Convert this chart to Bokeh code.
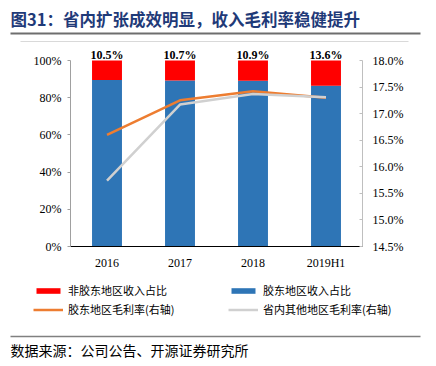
from bokeh.plotting import figure
from bokeh.layouts import column
from bokeh.models import (Range1d, FactorRange, LinearAxis, FixedTicker, PrintfTickFormatter,
                          LabelSet, ColumnDataSource, Legend, LegendItem, BoxAnnotation)
from bokeh.core.properties import value
from bokeh.embed import file_html
from bokeh.resources import INLINE

categories = ["2016", "2017", "2018", "2019H1"]
other_share = [10.5, 10.7, 10.9, 13.6]          # 非胶东地区收入占比 (%)
jiaodong_share = [89.5, 89.3, 89.1, 86.4]       # 胶东地区收入占比 (%)
jiaodong_margin = [16.60, 17.25, 17.42, 17.30]  # 胶东地区毛利率 (%, right axis)
other_margin = [15.74, 17.17, 17.37, 17.31]     # 省内其他地区毛利率 (%, right axis)
share_labels = ["10.5%", "10.7%", "10.9%", "13.6%"]
left_ticks = [0, 20, 40, 60, 80, 100]
right_ticks = [14.5, 15.0, 15.5, 16.0, 16.5, 17.0, 17.5, 18.0]
title_text = "图31：省内扩张成效明显，收入毛利率稳健提升"
source_text = "数据来源：公司公告、开源证券研究所"
legend_labels = ["非胶东地区收入占比", "胶东地区收入占比", "胶东地区毛利率(右轴)", "省内其他地区毛利率(右轴)"]

SERIF = "Liberation Serif"
CJK = "Noto Sans CJK SC"
W = 436
RED, BLUE, ORANGE, GREY = "#FF0000", "#2E75B6", "#ED7D31", "#D0D0D0"


def rule(fig, left, right, bottom, top, color):
    fig.add_layout(BoxAnnotation(left=left, right=right, bottom=bottom, top=top,
                                 fill_color=color, fill_alpha=1, line_color=None, level="overlay"))


# ---------- header (pixel-like coordinates, y measured up from the bottom) ----------
TOP_H = 42
head = figure(width=W, height=TOP_H, x_range=Range1d(0, W), y_range=Range1d(0, TOP_H),
              x_axis_type=None, y_axis_type=None, output_backend="svg", toolbar_location=None,
              min_border=0, outline_line_color=None, frame_align=False)
head.grid.visible = False
head.text(x=[10], y=[24], text=[title_text], text_baseline="middle", text_align="left",
          text_font=value(CJK), text_font_size="16.5px", text_font_style="bold", text_color="#1F3A78")
rule(head, 10, 420, 8, 10, "#6E6E6E")
rule(head, 20, 408, 0.5, 1.5, "#D9D9D9")

# ---------- main chart ----------
MAIN_H = 234
frame_px = 202.0
axis_px = 186.0
left_top = 100 * frame_px / axis_px
right_top = 14.5 + 3.5 * frame_px / axis_px

src = ColumnDataSource(dict(
    cat=categories,
    blue_top=jiaodong_share,
    red_top=[a + b for a, b in zip(jiaodong_share, other_share)],
    jm=jiaodong_margin,
    om=other_margin,
    lab=share_labels,
))

p = figure(width=W, height=MAIN_H, x_range=FactorRange(*categories, range_padding=0),
           y_range=Range1d(0, left_top), output_backend="svg", toolbar_location=None,
           min_border_left=70, min_border_right=74, min_border_top=2, min_border_bottom=30,
           frame_align=False)
p.extra_y_ranges = {"right": Range1d(14.5, right_top)}
p.outline_line_color = None
p.xgrid.grid_line_color = None
p.ygrid.grid_line_color = None

blue = p.vbar(x="cat", bottom=0, top="blue_top", width=0.41, source=src,
              fill_color=BLUE, line_color=None)
red = p.vbar(x="cat", bottom="blue_top", top="red_top", width=0.41, source=src,
             fill_color=RED, line_color=None)
ol = p.line(x="cat", y="jm", source=src, y_range_name="right", line_color=ORANGE, line_width=2.5)
gl = p.line(x="cat", y="om", source=src, y_range_name="right", line_color=GREY, line_width=2.5)

labels = LabelSet(x="cat", y="red_top", text="lab", source=src, text_align="center",
                  text_baseline="bottom", y_offset=-1, text_font=value(SERIF), text_font_size="12px",
                  text_font_style="bold", text_color="#000000")
p.add_layout(labels)

p.xaxis.axis_line_color = "#000000"
p.xaxis.major_tick_line_color = None
p.xaxis.minor_tick_line_color = None
p.xaxis.major_label_text_font = SERIF
p.xaxis.major_label_text_font_size = "12px"
p.xaxis.major_label_text_color = "#000000"
p.xaxis.major_label_standoff = 3

p.yaxis.ticker = FixedTicker(ticks=left_ticks)
p.yaxis.bounds = (0, 100)
p.yaxis.formatter = PrintfTickFormatter(format="%d%%")
p.yaxis.axis_line_color = "#A0A0A0"
p.yaxis.major_tick_line_color = "#A0A0A0"
p.yaxis.major_tick_in = 0
p.yaxis.major_tick_out = 3
p.yaxis.minor_tick_line_color = None
p.yaxis.major_label_text_font = SERIF
p.yaxis.major_label_text_font_size = "12px"
p.yaxis.major_label_text_color = "#000000"
p.yaxis.major_label_standoff = 6

ra = LinearAxis(y_range_name="right", ticker=FixedTicker(ticks=right_ticks),
                formatter=PrintfTickFormatter(format="%.1f%%"), bounds=(14.5, 18.0))
ra.axis_line_color = "#BFBFBF"
ra.major_tick_line_color = "#BFBFBF"
ra.major_tick_in = 3
ra.major_tick_out = 0
ra.minor_tick_line_color = None
ra.major_label_text_font = SERIF
ra.major_label_text_font_size = "12px"
ra.major_label_text_color = "#000000"
ra.major_label_standoff = 10
p.add_layout(ra, "right")

# ---------- footer: legend + source ----------
BOT_H = 366 - TOP_H - MAIN_H
foot = figure(width=W, height=BOT_H, x_range=Range1d(0, W), y_range=Range1d(0, BOT_H),
              x_axis_type=None, y_axis_type=None, output_backend="svg", toolbar_location=None,
              min_border=0, outline_line_color=None, frame_align=False)
foot.grid.visible = False
# legend keys: one off-view point each so the legend can draw their swatches
lr = foot.vbar(x=[-100], top=[-100], width=1, fill_color=RED, line_color=None)
lb = foot.vbar(x=[-100], top=[-100], width=1, fill_color=BLUE, line_color=None)
lo = foot.line(x=[-100, -90], y=[-100, -100], line_color=ORANGE, line_width=2.5)
lg_ = foot.line(x=[-100, -90], y=[-100, -100], line_color=GREY, line_width=2.5)
legend = Legend(items=[LegendItem(label=legend_labels[0], renderers=[lr]),
                       LegendItem(label=legend_labels[1], renderers=[lb]),
                       LegendItem(label=legend_labels[2], renderers=[lo]),
                       LegendItem(label=legend_labels[3], renderers=[lg_])],
                location=(33, 47.5), orientation="horizontal", ncols=2,
                glyph_width=30, glyph_height=7, label_width=160, label_height=19,
                label_standoff=5, spacing=0, padding=0, margin=0,
                border_line_color=None, background_fill_alpha=0,
                label_text_font=CJK, label_text_font_size="11px", label_text_color="#000000")
foot.add_layout(legend, "center")
rule(foot, 10, 420, 29.25, 30.75, "#808080")
foot.text(x=[10], y=[17], text=[source_text], text_baseline="middle", text_align="left",
          text_font=value(CJK), text_font_size="14px", text_color="#000000")

layout = column(head, p, foot, spacing=0)
open("out.html", "w").write(file_html(layout, INLINE))
